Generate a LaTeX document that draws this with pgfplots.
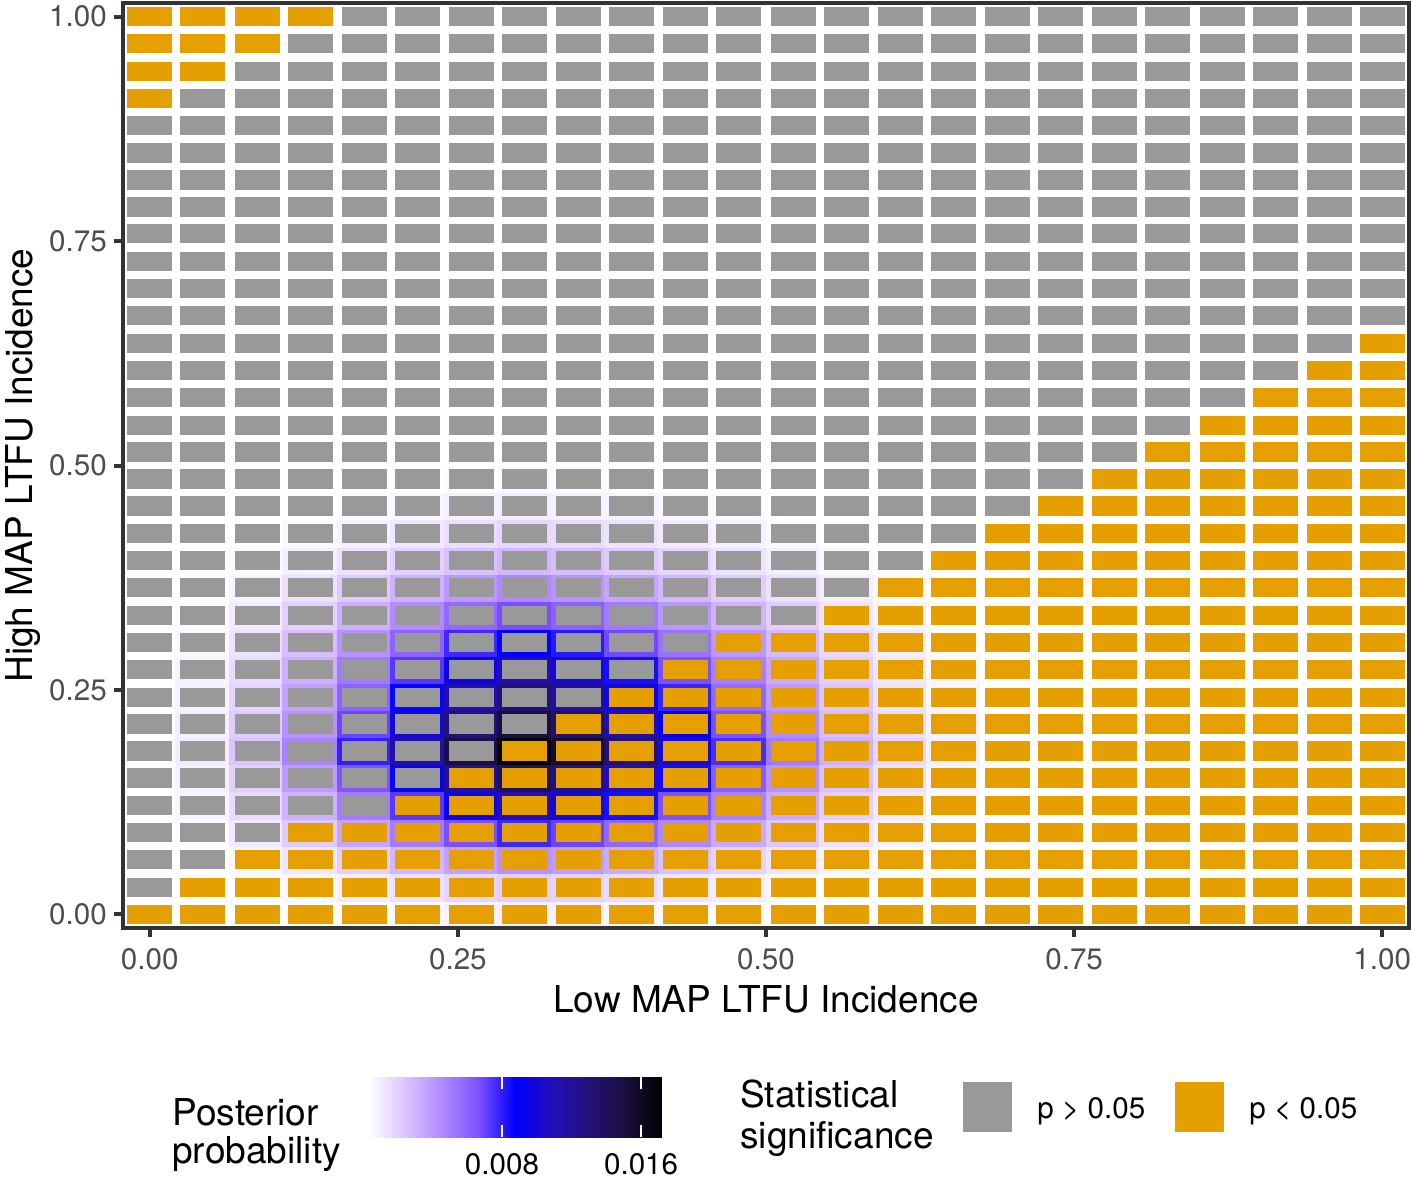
\documentclass[border=0pt]{standalone}
\usepackage{fontspec}
\setmainfont{TeX Gyre Heros}
\usepackage{pgfplots}
\pgfplotsset{compat=1.18}

\definecolor{signo}{HTML}{999999}
\definecolor{sigyes}{HTML}{E69F00}
\definecolor{framegray}{HTML}{333333}
\definecolor{ticktext}{HTML}{4D4D4D}

\newcommand\titlefont{\fontsize{18.5}{22}\selectfont}
\newcommand\smallfont{\fontsize{14.8}{17}\selectfont}

% white -> blue -> black, interpolated the way ggplot does it (Lab)
\pgfplotsset{colormap={post}{rgb255=(255,255,255) rgb255=(220,196,255) rgb255=(178,139,255)
  rgb255=(126,81,255) rgb255=(0,0,255) rgb255=(35,14,185) rgb255=(36,17,120)
  rgb255=(27,15,60) rgb255=(0,0,0)}}

% tile = significance fill, cell = full grid cell, its posterior colour shows in the gaps
\pgfdeclareplotmark{tile}{%
  \pgfpathrectangle{\pgfpoint{-11.25pt}{-4.8pt}}{\pgfpoint{22.5pt}{9.6pt}}%
  \pgfusepathqfill}
\pgfdeclareplotmark{cell}{%
  \pgfpathrectangle{\pgfpoint{-13.8pt}{-7.1pt}}{\pgfpoint{27.6pt}{14.2pt}}%
  \pgfusepathqfill}

\begin{document}
\begin{tikzpicture}
\useasboundingbox (-61.5pt,-125.5pt) rectangle (644pt,464pt);
\begin{axis}[
  at={(0pt,0pt)}, anchor=south west,
  scale only axis, width=643pt, height=462.5pt,
  xmin=-0.02174, xmax=1.02174, ymin=-0.01515, ymax=1.01515,
  axis on top, clip marker paths=true,
  axis line style={framegray, line width=2pt},
  tick style={framegray, line width=2pt},
  tick align=outside, major tick length=4.6pt,
  xtick={0,0.25,0.5,0.75,1}, ytick={0,0.25,0.5,0.75,1},
  xtick pos=bottom, ytick pos=left,
  /pgf/number format/assume math mode=true,
  tick label style={font=\smallfont, text=ticktext,
    /pgf/number format/fixed, /pgf/number format/fixed zerofill,
    /pgf/number format/precision=2},
  xticklabel style={yshift=-2pt},
  xlabel={Low MAP LTFU Incidence},
  ylabel={High MAP LTFU Incidence},
  label style={font=\titlefont},
  xlabel style={at={(axis description cs:0.5,0)}, anchor=base, yshift=-42pt},
  ylabel style={at={(axis description cs:-0.0700,0.5)}, anchor=base},
  colormap name=post,
  point meta min=0.0003, point meta max=0.0172,
  colorbar horizontal,
  colorbar/width=30pt,
  colorbar style={
    at={(0.19051,-0.16108)}, anchor=north west,
    scale only axis, width=147pt, height=30pt,
    axis on top,
    axis line style={draw=none},
    xtick={0.008,0.016}, xticklabels={0.008,0.016}, scaled x ticks=false,
    xtick align=inside, xtick pos=both, major tick length=6pt,
    tick style={white, line width=1pt},
    xticklabel style={font=\smallfont, text=black, anchor=base, inner sep=0pt, yshift=-18.5pt},
  },
]

% posterior probability of each grid cell
\addplot[scatter, only marks, mark=cell, point meta=explicit,
  scatter/use mapped color={draw=mapped color, fill=mapped color}] coordinates {
(0.087,0) [0.00012] (0.130,0) [0.00024] (0.174,0) [0.00040] (0.217,0) [0.00057] (0.261,0) [0.00074] (0.304,0) [0.00086] (0.348,0) [0.00077] (0.391,0) [0.00065] (0.435,0) [0.00052] (0.478,0) [0.00038] (0.522,0) [0.00026] (0.565,0) [0.00015]
(0.043,0.030) [0.00012] (0.087,0.030) [0.00029] (0.130,0.030) [0.00058] (0.174,0.030) [0.00095] (0.217,0.030) [0.00136] (0.261,0.030) [0.00178] (0.304,0.030) [0.00206] (0.348,0.030) [0.00186] (0.391,0.030) [0.00157] (0.435,0.030) [0.00124] (0.478,0.030) [0.00091] (0.522,0.030) [0.00062] (0.565,0.030) [0.00037] (0.609,0.030) [0.00021] (0.652,0.030) [0.00010]
(0.043,0.061) [0.00026] (0.087,0.061) [0.00060] (0.130,0.061) [0.00120] (0.174,0.061) [0.00198] (0.217,0.061) [0.00284] (0.261,0.061) [0.00370] (0.304,0.061) [0.00430] (0.348,0.061) [0.00387] (0.391,0.061) [0.00327] (0.435,0.061) [0.00258] (0.478,0.061) [0.00189] (0.522,0.061) [0.00129] (0.565,0.061) [0.00077] (0.609,0.061) [0.00043] (0.652,0.061) [0.00022]
(0,0.091) [0.00015] (0.043,0.091) [0.00046] (0.087,0.091) [0.00108] (0.130,0.091) [0.00217] (0.174,0.091) [0.00356] (0.217,0.091) [0.00511] (0.261,0.091) [0.00666] (0.304,0.091) [0.00774] (0.348,0.091) [0.00697] (0.391,0.091) [0.00588] (0.435,0.091) [0.00464] (0.478,0.091) [0.00341] (0.522,0.091) [0.00232] (0.565,0.091) [0.00139] (0.609,0.091) [0.00077] (0.652,0.091) [0.00039] (0.696,0.091) [0.00015]
(0,0.121) [0.00022] (0.043,0.121) [0.00066] (0.087,0.121) [0.00154] (0.130,0.121) [0.00308] (0.174,0.121) [0.00506] (0.217,0.121) [0.00727] (0.261,0.121) [0.00947] (0.304,0.121) [0.01101] (0.348,0.121) [0.00991] (0.391,0.121) [0.00837] (0.435,0.121) [0.00660] (0.478,0.121) [0.00484] (0.522,0.121) [0.00330] (0.565,0.121) [0.00198] (0.609,0.121) [0.00110] (0.652,0.121) [0.00055] (0.696,0.121) [0.00022] (0.739,0.121) [0.00011]
(0,0.152) [0.00028] (0.043,0.152) [0.00085] (0.087,0.152) [0.00197] (0.130,0.152) [0.00395] (0.174,0.152) [0.00649] (0.217,0.152) [0.00931] (0.261,0.152) [0.01213] (0.304,0.152) [0.01410] (0.348,0.152) [0.01269] (0.391,0.152) [0.01072] (0.435,0.152) [0.00846] (0.478,0.152) [0.00621] (0.522,0.152) [0.00423] (0.565,0.152) [0.00254] (0.609,0.152) [0.00141] (0.652,0.152) [0.00071] (0.696,0.152) [0.00028] (0.739,0.152) [0.00014]
(0,0.182) [0.00034] (0.043,0.182) [0.00103] (0.087,0.182) [0.00241] (0.130,0.182) [0.00482] (0.174,0.182) [0.00791] (0.217,0.182) [0.01135] (0.261,0.182) [0.01479] (0.304,0.182) [0.01720] (0.348,0.182) [0.01548] (0.391,0.182) [0.01307] (0.435,0.182) [0.01032] (0.478,0.182) [0.00757] (0.522,0.182) [0.00516] (0.565,0.182) [0.00310] (0.609,0.182) [0.00172] (0.652,0.182) [0.00086] (0.696,0.182) [0.00034] (0.739,0.182) [0.00017]
(0,0.212) [0.00030] (0.043,0.212) [0.00091] (0.087,0.212) [0.00212] (0.130,0.212) [0.00424] (0.174,0.212) [0.00696] (0.217,0.212) [0.00999] (0.261,0.212) [0.01302] (0.304,0.212) [0.01514] (0.348,0.212) [0.01362] (0.391,0.212) [0.01150] (0.435,0.212) [0.00908] (0.478,0.212) [0.00666] (0.522,0.212) [0.00454] (0.565,0.212) [0.00272] (0.609,0.212) [0.00151] (0.652,0.212) [0.00076] (0.696,0.212) [0.00030] (0.739,0.212) [0.00015]
(0,0.242) [0.00026] (0.043,0.242) [0.00078] (0.087,0.242) [0.00183] (0.130,0.242) [0.00366] (0.174,0.242) [0.00601] (0.217,0.242) [0.00863] (0.261,0.242) [0.01124] (0.304,0.242) [0.01307] (0.348,0.242) [0.01176] (0.391,0.242) [0.00993] (0.435,0.242) [0.00784] (0.478,0.242) [0.00575] (0.522,0.242) [0.00392] (0.565,0.242) [0.00235] (0.609,0.242) [0.00131] (0.652,0.242) [0.00065] (0.696,0.242) [0.00026] (0.739,0.242) [0.00013]
(0,0.273) [0.00023] (0.043,0.273) [0.00070] (0.087,0.273) [0.00162] (0.130,0.273) [0.00318] (0.174,0.273) [0.00515] (0.217,0.273) [0.00730] (0.261,0.273) [0.00945] (0.304,0.273) [0.01095] (0.348,0.273) [0.00990] (0.391,0.273) [0.00840] (0.435,0.273) [0.00668] (0.478,0.273) [0.00495] (0.522,0.273) [0.00340] (0.565,0.273) [0.00206] (0.609,0.273) [0.00116] (0.652,0.273) [0.00058] (0.696,0.273) [0.00023] (0.739,0.273) [0.00011]
(0,0.303) [0.00019] (0.043,0.303) [0.00058] (0.087,0.303) [0.00133] (0.130,0.303) [0.00262] (0.174,0.303) [0.00425] (0.217,0.303) [0.00600] (0.261,0.303) [0.00772] (0.304,0.303) [0.00894] (0.348,0.303) [0.00808] (0.391,0.303) [0.00686] (0.435,0.303) [0.00546] (0.478,0.303) [0.00405] (0.522,0.303) [0.00278] (0.565,0.303) [0.00168] (0.609,0.303) [0.00094] (0.652,0.303) [0.00047] (0.696,0.303) [0.00019]
(0,0.333) [0.00014] (0.043,0.333) [0.00043] (0.087,0.333) [0.00100] (0.130,0.333) [0.00197] (0.174,0.333) [0.00320] (0.217,0.333) [0.00452] (0.261,0.333) [0.00580] (0.304,0.333) [0.00671] (0.348,0.333) [0.00607] (0.391,0.333) [0.00516] (0.435,0.333) [0.00410] (0.478,0.333) [0.00304] (0.522,0.333) [0.00210] (0.565,0.333) [0.00127] (0.609,0.333) [0.00071] (0.652,0.333) [0.00036] (0.696,0.333) [0.00014]
(0.043,0.364) [0.00030] (0.087,0.364) [0.00069] (0.130,0.364) [0.00136] (0.174,0.364) [0.00221] (0.217,0.364) [0.00313] (0.261,0.364) [0.00401] (0.304,0.364) [0.00464] (0.348,0.364) [0.00420] (0.391,0.364) [0.00357] (0.435,0.364) [0.00284] (0.478,0.364) [0.00210] (0.522,0.364) [0.00145] (0.565,0.364) [0.00088] (0.609,0.364) [0.00049] (0.652,0.364) [0.00025]
(0.043,0.394) [0.00019] (0.087,0.394) [0.00043] (0.130,0.394) [0.00086] (0.174,0.394) [0.00139] (0.217,0.394) [0.00196] (0.261,0.394) [0.00252] (0.304,0.394) [0.00292] (0.348,0.394) [0.00264] (0.391,0.394) [0.00224] (0.435,0.394) [0.00178] (0.478,0.394) [0.00132] (0.522,0.394) [0.00091] (0.565,0.394) [0.00055] (0.609,0.394) [0.00031] (0.652,0.394) [0.00016]
(0.043,0.424) [0.00011] (0.087,0.424) [0.00025] (0.130,0.424) [0.00050] (0.174,0.424) [0.00081] (0.217,0.424) [0.00115] (0.261,0.424) [0.00148] (0.304,0.424) [0.00172] (0.348,0.424) [0.00155] (0.391,0.424) [0.00132] (0.435,0.424) [0.00105] (0.478,0.424) [0.00078] (0.522,0.424) [0.00053] (0.565,0.424) [0.00032] (0.609,0.424) [0.00018]
(0.087,0.455) [0.00014] (0.130,0.455) [0.00027] (0.174,0.455) [0.00045] (0.217,0.455) [0.00063] (0.261,0.455) [0.00081] (0.304,0.455) [0.00095] (0.348,0.455) [0.00085] (0.391,0.455) [0.00073] (0.435,0.455) [0.00058] (0.478,0.455) [0.00043] (0.522,0.455) [0.00029] (0.565,0.455) [0.00017]
(0.130,0.485) [0.00013] (0.174,0.485) [0.00022] (0.217,0.485) [0.00032] (0.261,0.485) [0.00041] (0.304,0.485) [0.00048] (0.348,0.485) [0.00043] (0.391,0.485) [0.00037] (0.435,0.485) [0.00029] (0.478,0.485) [0.00021] (0.522,0.485) [0.00014]
(0.217,0.515) [0.00014] (0.261,0.515) [0.00018] (0.304,0.515) [0.00021] (0.348,0.515) [0.00019] (0.391,0.515) [0.00016] (0.435,0.515) [0.00012]
};

% p > 0.05
\addplot[only marks, mark=tile, color=signo] coordinates {
(0,0.030)
(0,0.061) (0.043,0.061)
(0,0.091) (0.043,0.091) (0.087,0.091)
(0,0.121) (0.043,0.121) (0.087,0.121) (0.130,0.121) (0.174,0.121)
(0,0.152) (0.043,0.152) (0.087,0.152) (0.130,0.152) (0.174,0.152) (0.217,0.152)
(0,0.182) (0.043,0.182) (0.087,0.182) (0.130,0.182) (0.174,0.182) (0.217,0.182) (0.261,0.182)
(0,0.212) (0.043,0.212) (0.087,0.212) (0.130,0.212) (0.174,0.212) (0.217,0.212) (0.261,0.212) (0.304,0.212)
(0,0.242) (0.043,0.242) (0.087,0.242) (0.130,0.242) (0.174,0.242) (0.217,0.242) (0.261,0.242) (0.304,0.242) (0.348,0.242)
(0,0.273) (0.043,0.273) (0.087,0.273) (0.130,0.273) (0.174,0.273) (0.217,0.273) (0.261,0.273) (0.304,0.273) (0.348,0.273) (0.391,0.273)
(0,0.303) (0.043,0.303) (0.087,0.303) (0.130,0.303) (0.174,0.303) (0.217,0.303) (0.261,0.303) (0.304,0.303) (0.348,0.303) (0.391,0.303) (0.435,0.303)
(0,0.333) (0.043,0.333) (0.087,0.333) (0.130,0.333) (0.174,0.333) (0.217,0.333) (0.261,0.333) (0.304,0.333) (0.348,0.333) (0.391,0.333) (0.435,0.333) (0.478,0.333) (0.522,0.333)
(0,0.364) (0.043,0.364) (0.087,0.364) (0.130,0.364) (0.174,0.364) (0.217,0.364) (0.261,0.364) (0.304,0.364) (0.348,0.364) (0.391,0.364) (0.435,0.364) (0.478,0.364) (0.522,0.364) (0.565,0.364)
(0,0.394) (0.043,0.394) (0.087,0.394) (0.130,0.394) (0.174,0.394) (0.217,0.394) (0.261,0.394) (0.304,0.394) (0.348,0.394) (0.391,0.394) (0.435,0.394) (0.478,0.394) (0.522,0.394) (0.565,0.394) (0.609,0.394)
(0,0.424) (0.043,0.424) (0.087,0.424) (0.130,0.424) (0.174,0.424) (0.217,0.424) (0.261,0.424) (0.304,0.424) (0.348,0.424) (0.391,0.424) (0.435,0.424) (0.478,0.424) (0.522,0.424) (0.565,0.424) (0.609,0.424) (0.652,0.424)
(0,0.455) (0.043,0.455) (0.087,0.455) (0.130,0.455) (0.174,0.455) (0.217,0.455) (0.261,0.455) (0.304,0.455) (0.348,0.455) (0.391,0.455) (0.435,0.455) (0.478,0.455) (0.522,0.455) (0.565,0.455) (0.609,0.455) (0.652,0.455) (0.696,0.455)
(0,0.485) (0.043,0.485) (0.087,0.485) (0.130,0.485) (0.174,0.485) (0.217,0.485) (0.261,0.485) (0.304,0.485) (0.348,0.485) (0.391,0.485) (0.435,0.485) (0.478,0.485) (0.522,0.485) (0.565,0.485) (0.609,0.485) (0.652,0.485) (0.696,0.485) (0.739,0.485)
(0,0.515) (0.043,0.515) (0.087,0.515) (0.130,0.515) (0.174,0.515) (0.217,0.515) (0.261,0.515) (0.304,0.515) (0.348,0.515) (0.391,0.515) (0.435,0.515) (0.478,0.515) (0.522,0.515) (0.565,0.515) (0.609,0.515) (0.652,0.515) (0.696,0.515) (0.739,0.515) (0.783,0.515)
(0,0.545) (0.043,0.545) (0.087,0.545) (0.130,0.545) (0.174,0.545) (0.217,0.545) (0.261,0.545) (0.304,0.545) (0.348,0.545) (0.391,0.545) (0.435,0.545) (0.478,0.545) (0.522,0.545) (0.565,0.545) (0.609,0.545) (0.652,0.545) (0.696,0.545) (0.739,0.545) (0.783,0.545) (0.826,0.545)
(0,0.576) (0.043,0.576) (0.087,0.576) (0.130,0.576) (0.174,0.576) (0.217,0.576) (0.261,0.576) (0.304,0.576) (0.348,0.576) (0.391,0.576) (0.435,0.576) (0.478,0.576) (0.522,0.576) (0.565,0.576) (0.609,0.576) (0.652,0.576) (0.696,0.576) (0.739,0.576) (0.783,0.576) (0.826,0.576) (0.870,0.576)
(0,0.606) (0.043,0.606) (0.087,0.606) (0.130,0.606) (0.174,0.606) (0.217,0.606) (0.261,0.606) (0.304,0.606) (0.348,0.606) (0.391,0.606) (0.435,0.606) (0.478,0.606) (0.522,0.606) (0.565,0.606) (0.609,0.606) (0.652,0.606) (0.696,0.606) (0.739,0.606) (0.783,0.606) (0.826,0.606) (0.870,0.606) (0.913,0.606)
(0,0.636) (0.043,0.636) (0.087,0.636) (0.130,0.636) (0.174,0.636) (0.217,0.636) (0.261,0.636) (0.304,0.636) (0.348,0.636) (0.391,0.636) (0.435,0.636) (0.478,0.636) (0.522,0.636) (0.565,0.636) (0.609,0.636) (0.652,0.636) (0.696,0.636) (0.739,0.636) (0.783,0.636) (0.826,0.636) (0.870,0.636) (0.913,0.636) (0.957,0.636)
(0,0.667) (0.043,0.667) (0.087,0.667) (0.130,0.667) (0.174,0.667) (0.217,0.667) (0.261,0.667) (0.304,0.667) (0.348,0.667) (0.391,0.667) (0.435,0.667) (0.478,0.667) (0.522,0.667) (0.565,0.667) (0.609,0.667) (0.652,0.667) (0.696,0.667) (0.739,0.667) (0.783,0.667) (0.826,0.667) (0.870,0.667) (0.913,0.667) (0.957,0.667) (1,0.667)
(0,0.697) (0.043,0.697) (0.087,0.697) (0.130,0.697) (0.174,0.697) (0.217,0.697) (0.261,0.697) (0.304,0.697) (0.348,0.697) (0.391,0.697) (0.435,0.697) (0.478,0.697) (0.522,0.697) (0.565,0.697) (0.609,0.697) (0.652,0.697) (0.696,0.697) (0.739,0.697) (0.783,0.697) (0.826,0.697) (0.870,0.697) (0.913,0.697) (0.957,0.697) (1,0.697)
(0,0.727) (0.043,0.727) (0.087,0.727) (0.130,0.727) (0.174,0.727) (0.217,0.727) (0.261,0.727) (0.304,0.727) (0.348,0.727) (0.391,0.727) (0.435,0.727) (0.478,0.727) (0.522,0.727) (0.565,0.727) (0.609,0.727) (0.652,0.727) (0.696,0.727) (0.739,0.727) (0.783,0.727) (0.826,0.727) (0.870,0.727) (0.913,0.727) (0.957,0.727) (1,0.727)
(0,0.758) (0.043,0.758) (0.087,0.758) (0.130,0.758) (0.174,0.758) (0.217,0.758) (0.261,0.758) (0.304,0.758) (0.348,0.758) (0.391,0.758) (0.435,0.758) (0.478,0.758) (0.522,0.758) (0.565,0.758) (0.609,0.758) (0.652,0.758) (0.696,0.758) (0.739,0.758) (0.783,0.758) (0.826,0.758) (0.870,0.758) (0.913,0.758) (0.957,0.758) (1,0.758)
(0,0.788) (0.043,0.788) (0.087,0.788) (0.130,0.788) (0.174,0.788) (0.217,0.788) (0.261,0.788) (0.304,0.788) (0.348,0.788) (0.391,0.788) (0.435,0.788) (0.478,0.788) (0.522,0.788) (0.565,0.788) (0.609,0.788) (0.652,0.788) (0.696,0.788) (0.739,0.788) (0.783,0.788) (0.826,0.788) (0.870,0.788) (0.913,0.788) (0.957,0.788) (1,0.788)
(0,0.818) (0.043,0.818) (0.087,0.818) (0.130,0.818) (0.174,0.818) (0.217,0.818) (0.261,0.818) (0.304,0.818) (0.348,0.818) (0.391,0.818) (0.435,0.818) (0.478,0.818) (0.522,0.818) (0.565,0.818) (0.609,0.818) (0.652,0.818) (0.696,0.818) (0.739,0.818) (0.783,0.818) (0.826,0.818) (0.870,0.818) (0.913,0.818) (0.957,0.818) (1,0.818)
(0,0.848) (0.043,0.848) (0.087,0.848) (0.130,0.848) (0.174,0.848) (0.217,0.848) (0.261,0.848) (0.304,0.848) (0.348,0.848) (0.391,0.848) (0.435,0.848) (0.478,0.848) (0.522,0.848) (0.565,0.848) (0.609,0.848) (0.652,0.848) (0.696,0.848) (0.739,0.848) (0.783,0.848) (0.826,0.848) (0.870,0.848) (0.913,0.848) (0.957,0.848) (1,0.848)
(0,0.879) (0.043,0.879) (0.087,0.879) (0.130,0.879) (0.174,0.879) (0.217,0.879) (0.261,0.879) (0.304,0.879) (0.348,0.879) (0.391,0.879) (0.435,0.879) (0.478,0.879) (0.522,0.879) (0.565,0.879) (0.609,0.879) (0.652,0.879) (0.696,0.879) (0.739,0.879) (0.783,0.879) (0.826,0.879) (0.870,0.879) (0.913,0.879) (0.957,0.879) (1,0.879)
(0.043,0.909) (0.087,0.909) (0.130,0.909) (0.174,0.909) (0.217,0.909) (0.261,0.909) (0.304,0.909) (0.348,0.909) (0.391,0.909) (0.435,0.909) (0.478,0.909) (0.522,0.909) (0.565,0.909) (0.609,0.909) (0.652,0.909) (0.696,0.909) (0.739,0.909) (0.783,0.909) (0.826,0.909) (0.870,0.909) (0.913,0.909) (0.957,0.909) (1,0.909)
(0.087,0.939) (0.130,0.939) (0.174,0.939) (0.217,0.939) (0.261,0.939) (0.304,0.939) (0.348,0.939) (0.391,0.939) (0.435,0.939) (0.478,0.939) (0.522,0.939) (0.565,0.939) (0.609,0.939) (0.652,0.939) (0.696,0.939) (0.739,0.939) (0.783,0.939) (0.826,0.939) (0.870,0.939) (0.913,0.939) (0.957,0.939) (1,0.939)
(0.130,0.970) (0.174,0.970) (0.217,0.970) (0.261,0.970) (0.304,0.970) (0.348,0.970) (0.391,0.970) (0.435,0.970) (0.478,0.970) (0.522,0.970) (0.565,0.970) (0.609,0.970) (0.652,0.970) (0.696,0.970) (0.739,0.970) (0.783,0.970) (0.826,0.970) (0.870,0.970) (0.913,0.970) (0.957,0.970) (1,0.970)
(0.174,1) (0.217,1) (0.261,1) (0.304,1) (0.348,1) (0.391,1) (0.435,1) (0.478,1) (0.522,1) (0.565,1) (0.609,1) (0.652,1) (0.696,1) (0.739,1) (0.783,1) (0.826,1) (0.870,1) (0.913,1) (0.957,1) (1,1)
};

% p < 0.05
\addplot[only marks, mark=tile, color=sigyes] coordinates {
(0,0) (0.043,0) (0.087,0) (0.130,0) (0.174,0) (0.217,0) (0.261,0) (0.304,0) (0.348,0) (0.391,0) (0.435,0) (0.478,0) (0.522,0) (0.565,0) (0.609,0) (0.652,0) (0.696,0) (0.739,0) (0.783,0) (0.826,0) (0.870,0) (0.913,0) (0.957,0) (1,0)
(0.043,0.030) (0.087,0.030) (0.130,0.030) (0.174,0.030) (0.217,0.030) (0.261,0.030) (0.304,0.030) (0.348,0.030) (0.391,0.030) (0.435,0.030) (0.478,0.030) (0.522,0.030) (0.565,0.030) (0.609,0.030) (0.652,0.030) (0.696,0.030) (0.739,0.030) (0.783,0.030) (0.826,0.030) (0.870,0.030) (0.913,0.030) (0.957,0.030) (1,0.030)
(0.087,0.061) (0.130,0.061) (0.174,0.061) (0.217,0.061) (0.261,0.061) (0.304,0.061) (0.348,0.061) (0.391,0.061) (0.435,0.061) (0.478,0.061) (0.522,0.061) (0.565,0.061) (0.609,0.061) (0.652,0.061) (0.696,0.061) (0.739,0.061) (0.783,0.061) (0.826,0.061) (0.870,0.061) (0.913,0.061) (0.957,0.061) (1,0.061)
(0.130,0.091) (0.174,0.091) (0.217,0.091) (0.261,0.091) (0.304,0.091) (0.348,0.091) (0.391,0.091) (0.435,0.091) (0.478,0.091) (0.522,0.091) (0.565,0.091) (0.609,0.091) (0.652,0.091) (0.696,0.091) (0.739,0.091) (0.783,0.091) (0.826,0.091) (0.870,0.091) (0.913,0.091) (0.957,0.091) (1,0.091)
(0.217,0.121) (0.261,0.121) (0.304,0.121) (0.348,0.121) (0.391,0.121) (0.435,0.121) (0.478,0.121) (0.522,0.121) (0.565,0.121) (0.609,0.121) (0.652,0.121) (0.696,0.121) (0.739,0.121) (0.783,0.121) (0.826,0.121) (0.870,0.121) (0.913,0.121) (0.957,0.121) (1,0.121)
(0.261,0.152) (0.304,0.152) (0.348,0.152) (0.391,0.152) (0.435,0.152) (0.478,0.152) (0.522,0.152) (0.565,0.152) (0.609,0.152) (0.652,0.152) (0.696,0.152) (0.739,0.152) (0.783,0.152) (0.826,0.152) (0.870,0.152) (0.913,0.152) (0.957,0.152) (1,0.152)
(0.304,0.182) (0.348,0.182) (0.391,0.182) (0.435,0.182) (0.478,0.182) (0.522,0.182) (0.565,0.182) (0.609,0.182) (0.652,0.182) (0.696,0.182) (0.739,0.182) (0.783,0.182) (0.826,0.182) (0.870,0.182) (0.913,0.182) (0.957,0.182) (1,0.182)
(0.348,0.212) (0.391,0.212) (0.435,0.212) (0.478,0.212) (0.522,0.212) (0.565,0.212) (0.609,0.212) (0.652,0.212) (0.696,0.212) (0.739,0.212) (0.783,0.212) (0.826,0.212) (0.870,0.212) (0.913,0.212) (0.957,0.212) (1,0.212)
(0.391,0.242) (0.435,0.242) (0.478,0.242) (0.522,0.242) (0.565,0.242) (0.609,0.242) (0.652,0.242) (0.696,0.242) (0.739,0.242) (0.783,0.242) (0.826,0.242) (0.870,0.242) (0.913,0.242) (0.957,0.242) (1,0.242)
(0.435,0.273) (0.478,0.273) (0.522,0.273) (0.565,0.273) (0.609,0.273) (0.652,0.273) (0.696,0.273) (0.739,0.273) (0.783,0.273) (0.826,0.273) (0.870,0.273) (0.913,0.273) (0.957,0.273) (1,0.273)
(0.478,0.303) (0.522,0.303) (0.565,0.303) (0.609,0.303) (0.652,0.303) (0.696,0.303) (0.739,0.303) (0.783,0.303) (0.826,0.303) (0.870,0.303) (0.913,0.303) (0.957,0.303) (1,0.303)
(0.565,0.333) (0.609,0.333) (0.652,0.333) (0.696,0.333) (0.739,0.333) (0.783,0.333) (0.826,0.333) (0.870,0.333) (0.913,0.333) (0.957,0.333) (1,0.333)
(0.609,0.364) (0.652,0.364) (0.696,0.364) (0.739,0.364) (0.783,0.364) (0.826,0.364) (0.870,0.364) (0.913,0.364) (0.957,0.364) (1,0.364)
(0.652,0.394) (0.696,0.394) (0.739,0.394) (0.783,0.394) (0.826,0.394) (0.870,0.394) (0.913,0.394) (0.957,0.394) (1,0.394)
(0.696,0.424) (0.739,0.424) (0.783,0.424) (0.826,0.424) (0.870,0.424) (0.913,0.424) (0.957,0.424) (1,0.424)
(0.739,0.455) (0.783,0.455) (0.826,0.455) (0.870,0.455) (0.913,0.455) (0.957,0.455) (1,0.455)
(0.783,0.485) (0.826,0.485) (0.870,0.485) (0.913,0.485) (0.957,0.485) (1,0.485)
(0.826,0.515) (0.870,0.515) (0.913,0.515) (0.957,0.515) (1,0.515)
(0.870,0.545) (0.913,0.545) (0.957,0.545) (1,0.545)
(0.913,0.576) (0.957,0.576) (1,0.576)
(0.957,0.606) (1,0.606)
(1,0.636)
(0,0.909)
(0,0.939) (0.043,0.939)
(0,0.970) (0.043,0.970) (0.087,0.970)
(0,1) (0.043,1) (0.087,1) (0.130,1)
};
\end{axis}

% legend: titles, keys and labels
\node[anchor=base west, inner sep=0pt, font=\titlefont] at (24.5pt,-98.5pt) {Posterior};
\node[anchor=base west, inner sep=0pt, font=\titlefont] at (24.5pt,-117.5pt) {probability};
\node[anchor=base west, inner sep=0pt, font=\titlefont] at (308.5pt,-89.5pt) {Statistical};
\node[anchor=base west, inner sep=0pt, font=\titlefont] at (308.5pt,-110pt) {significance};
\fill[signo] (420pt,-102pt) rectangle (444.5pt,-77pt);
\node[anchor=base west, inner sep=0pt, font=\smallfont] at (457pt,-95pt) {p > 0.05};
\fill[sigyes] (526pt,-102pt) rectangle (550.5pt,-77pt);
\node[anchor=base west, inner sep=0pt, font=\smallfont] at (563pt,-95pt) {p < 0.05};
\end{tikzpicture}
\end{document}
